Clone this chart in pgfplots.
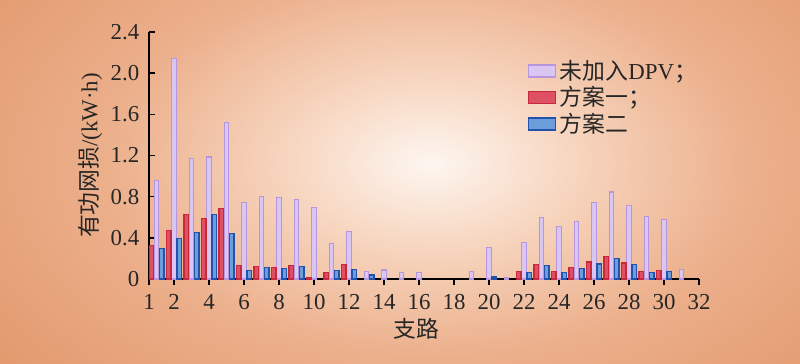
\documentclass[border=0pt]{standalone}
\usepackage{pgfplots}
\pgfplotsset{compat=1.18}
\usepackage{fontspec}
\setmainfont{Liberation Serif}
\newfontfamily\cjk{Noto Sans CJK SC}
\definecolor{lavfill}{RGB}{218,198,242}
\definecolor{lavdraw}{RGB}{184,150,222}
\definecolor{redfill}{RGB}{222,80,100}
\definecolor{reddraw}{RGB}{200,40,60}
\definecolor{bluefill}{RGB}{108,158,220}
\definecolor{bluedraw}{RGB}{34,82,172}
\definecolor{bgc0}{RGB}{253,246,240}
\definecolor{bgc1}{RGB}{247,214,192}
\definecolor{bgc2}{RGB}{236,176,140}
\definecolor{bgc3}{RGB}{224,147,102}
\pgfdeclareradialshading{bgshade}{\pgfpoint{0bp}{0bp}}{color(0bp)=(bgc0); color(3.5bp)=(bgc1); color(8bp)=(bgc2); color(15bp)=(bgc3); color(50bp)=(bgc3)}

\pgfplotstableread{
x y
1 0.955
2 2.14
3 1.17
4 1.185
5 1.52
6 0.74
7 0.80
8 0.79
9 0.77
10 0.695
11 0.345
12 0.465
13 0.075
14 0.088
15 0.06
16 0.06
19 0.075
20 0.305
21 0.015
22 0.355
23 0.60
24 0.51
25 0.56
26 0.745
27 0.845
28 0.715
29 0.61
30 0.58
31 0.095
}\lavdata
\pgfplotstableread{
x y
1 0.325
2 0.47
3 0.63
4 0.59
5 0.685
6 0.13
7 0.12
8 0.11
9 0.13
10 0.01
11 0.06
12 0.14
22 0.075
23 0.14
24 0.075
25 0.115
26 0.165
27 0.22
28 0.155
29 0.07
30 0.08
}\reddata
\pgfplotstableread{
x y
1 0.30
2 0.39
3 0.45
4 0.625
5 0.445
6 0.08
7 0.11
8 0.10
9 0.12
11 0.08
12 0.09
13 0.04
20 0.02
22 0.065
23 0.13
24 0.06
25 0.10
26 0.145
27 0.20
28 0.14
29 0.06
30 0.07
}\bluedata

\begin{document}
\begin{tikzpicture}
\begin{scope}
\clip (0,0) rectangle (16cm,7.26cm);
\shade[shading=bgshade] (8.6cm,4.0cm) ellipse (20cm and 12cm);
\end{scope}
\begin{axis}[
  at={(2.98cm,1.68cm)}, anchor=south west,
  scale only axis, width=11cm, height=4.94cm,
  xmin=0.571, xmax=32, ymin=0, ymax=2.4,
  axis x line*=bottom, axis y line*=left,
  axis line style={line width=0.8pt, black},
  tick align=inside, major tick length=0.12cm,
  tick style={line width=0.8pt, black},
  xtick={0.571,2,4,6,8,10,12,14,16,18,20,22,24,26,28,30,32},
  xticklabels={1,2,4,6,8,10,12,14,16,18,20,22,24,26,28,30,32},
  ytick={0,0.4,0.8,1.2,1.6,2.0,2.4},
  yticklabels={0,0.4,0.8,1.2,1.6,2.0,2.4},
  ticklabel style={font=\fontsize{13}{14}\selectfont, text=black!85},
  xticklabel style={yshift=-2pt},
  yticklabel style={xshift=-2pt},
  xlabel={\cjk 支路},
  ylabel={{\cjk 有功网损}/(kW·h)},
  label style={font=\fontsize{13}{14}\selectfont, text=black!85},
  xlabel style={yshift=2pt, xshift=-0.15cm},
  ylabel style={yshift=-2pt},
  ybar, bar width=0.09cm,
  legend style={at={(rel axis cs:0.678,0.915)}, anchor=north west, draw=none, fill=none,
    font=\fontsize{13}{14}\selectfont, text=black!85, row sep=-1.5pt, legend cell align=left},
  legend image code/.code={\draw[#1, line width=1pt] (0cm,-0.12cm) rectangle (0.54cm,0.12cm);},
]
\addplot[bar shift=0cm, fill=lavfill, draw=lavdraw, line width=0.7pt] table[x=x,y=y] {\lavdata};
\addlegendentry{{\cjk 未加入}DPV{\cjk ；}}
\addplot[bar shift=-0.105cm, fill=redfill, draw=reddraw, line width=0.7pt] table[x=x,y=y] {\reddata};
\addlegendentry{{\cjk 方案一；}}
\addplot[bar shift=0.105cm, fill=bluefill, draw=bluedraw, line width=0.7pt] table[x=x,y=y] {\bluedata};
\addlegendentry{{\cjk 方案二}}
\end{axis}
\end{tikzpicture}
\end{document}
